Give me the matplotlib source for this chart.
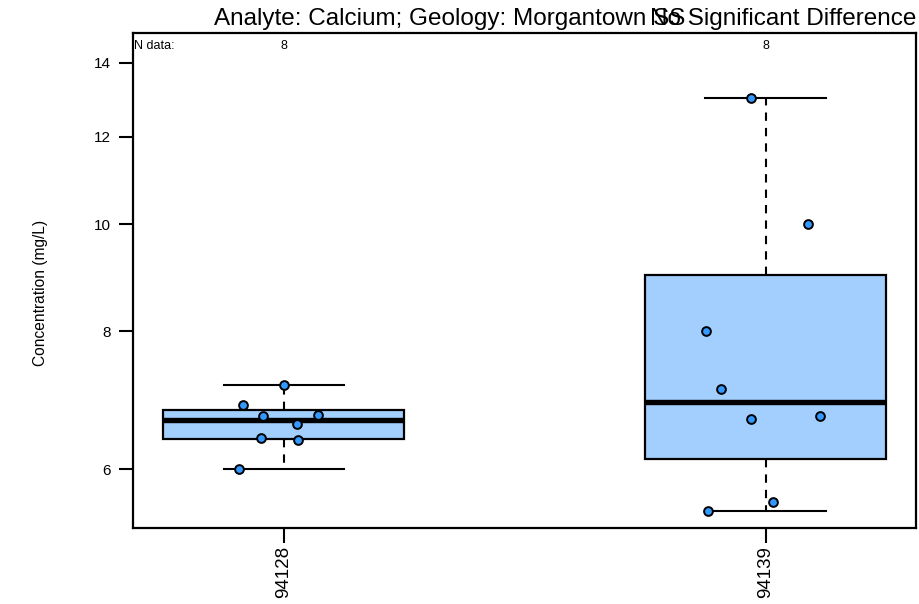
import numpy as np
import matplotlib
matplotlib.use("Agg")
import matplotlib.pyplot as plt
from matplotlib.transforms import blended_transform_factory

plt.rcParams['font.family'] = ['Liberation Sans', 'DejaVu Sans']

# Calcium concentrations (mg/L) per well
wells = ["94128", "94139"]
calcium_94128 = [7.16, 6.86, 6.72, 6.71, 6.60, 6.40, 6.38, 6.00]
calcium_94139 = [13.0, 10.0, 8.0, 7.10, 6.66, 6.70, 5.60, 5.50]
# horizontal jitter applied to each observation
jitter_94128 = [0.0, -0.085, 0.071, -0.044, 0.028, -0.047, 0.030, -0.093]
jitter_94139 = [-0.030, 0.088, -0.124, -0.092, -0.030, 0.113, 0.015, -0.119]

title_left = "Analyte: Calcium; Geology: Morgantown SS"
title_right = "No Significant Difference"
y_label = "Concentration (mg/L)"
y_ticks = [6, 8, 10, 12, 14]

groups = [calcium_94128, calcium_94139]
jitters = [jitter_94128, jitter_94139]

BOX_FILL = "#A3CFFF"
POINT_FILL = "#3399FF"


def tukey_stats(values, label):
    """Five-number summary with Tukey hinges (as in R's boxplot)."""
    v = np.sort(np.asarray(values, dtype=float))
    n = len(v)
    n4 = np.floor((n + 3) / 2) / 2
    d = np.array([1, n4, (n + 1) / 2, n + 1 - n4, n])
    lo = v[np.floor(d - 1).astype(int)]
    hi = v[np.ceil(d - 1).astype(int)]
    q = 0.5 * (lo + hi)
    iqr = q[3] - q[1]
    lower_fence = q[1] - 1.5 * iqr
    upper_fence = q[3] + 1.5 * iqr
    whislo = v[v >= lower_fence].min()
    whishi = v[v <= upper_fence].max()
    fliers = v[(v < whislo) | (v > whishi)]
    return dict(med=q[2], q1=q[1], q3=q[3], whislo=whislo, whishi=whishi,
                fliers=fliers, label=label)


fig = plt.figure(figsize=(9.2, 6.04), dpi=100)
ax = fig.add_axes([133 / 920, 1 - 528 / 604, (916 - 133) / 920, (528 - 33) / 604])

stats = [tukey_stats(g, w) for g, w in zip(groups, wells)]
positions = np.arange(1, len(groups) + 1)

ax.bxp(stats, positions=positions, widths=0.5, patch_artist=True,
       showfliers=False,
       boxprops=dict(facecolor=BOX_FILL, edgecolor="black", linewidth=1.6),
       medianprops=dict(color="black", linewidth=3.9, solid_capstyle="butt"),
       whiskerprops=dict(color="black", linewidth=1.5, linestyle=(0, (4.0, 3.4))),
       capprops=dict(color="black", linewidth=1.5),
       capwidths=0.25)

for pos, vals, jit in zip(positions, groups, jitters):
    ax.plot(pos + np.asarray(jit), vals, linestyle="none", marker="o",
            markersize=6.3, markerfacecolor=POINT_FILL,
            markeredgecolor="black", markeredgewidth=1.4, zorder=5)

ax.set_yscale("log")
ax.set_ylim(5.31, 14.9)
ax.set_xlim(0.687, 2.312)

ax.yaxis.set_major_locator(matplotlib.ticker.FixedLocator(y_ticks))
ax.yaxis.set_major_formatter(matplotlib.ticker.FixedFormatter([str(t) for t in y_ticks]))
ax.yaxis.set_minor_locator(matplotlib.ticker.NullLocator())
ax.set_xticks(positions)
ax.set_xticklabels(wells, rotation=90, fontsize=13.5)
ax.tick_params(axis="y", labelsize=11, length=10, width=1.5, pad=6)
ax.tick_params(axis="x", length=11, width=1.5, pad=2)

for sp in ax.spines.values():
    sp.set_linewidth(1.6)

ax.set_ylabel(y_label, fontsize=11.2)
ax.yaxis.set_label_coords(-0.109, 0.475)

# sample counts along the top of the panel
trans = blended_transform_factory(ax.transData, ax.transAxes)
ax.text(0.0015, 0.974, "N data:", transform=ax.transAxes, ha="left", va="center", fontsize=9)
for pos, vals in zip(positions, groups):
    ax.text(pos, 0.974, str(len(vals)), transform=trans, ha="center", va="center", fontsize=9)

ax.text(0.104, 1.006, title_left, transform=ax.transAxes, ha="left", va="bottom", fontsize=17.5)
ax.text(1.0, 1.006, title_right, transform=ax.transAxes, ha="right", va="bottom", fontsize=17.5)

fig.savefig("out.png", dpi=100)
